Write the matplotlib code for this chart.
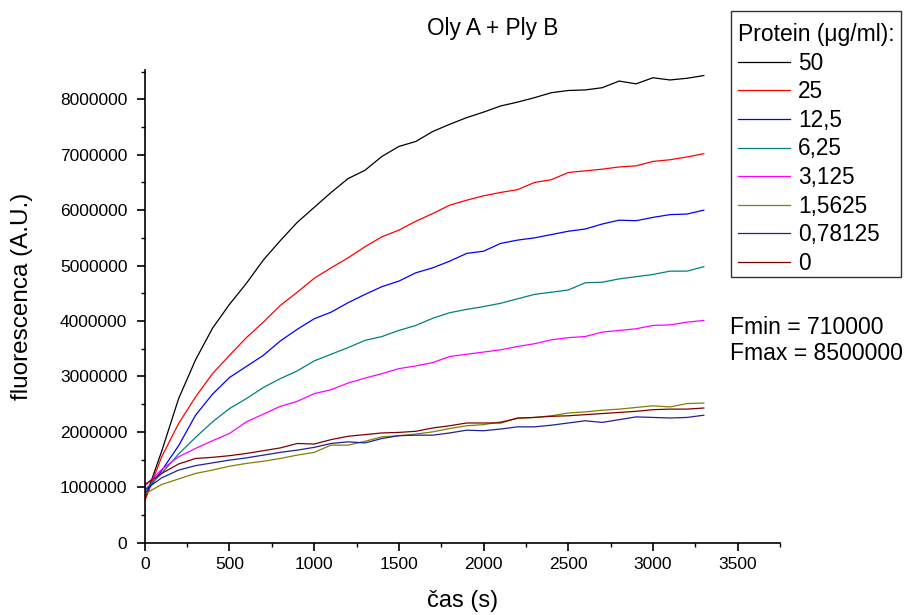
import matplotlib
matplotlib.use("Agg")
import matplotlib.pyplot as plt
from matplotlib.ticker import MultipleLocator
from matplotlib.patches import Rectangle

plt.rcParams['font.family'] = ['Liberation Sans', 'DejaVu Sans']

time_s = [0, 100, 200, 300, 400, 500, 600, 700, 800, 900, 1000, 1100, 1200, 1300,
          1400, 1500, 1600, 1700, 1800, 1900, 2000, 2100, 2200, 2300, 2400, 2500,
          2600, 2700, 2800, 2900, 3000, 3100, 3200, 3300]

labels = ["50", "25", "12,5", "6,25", "3,125", "1,5625", "0,78125", "0"]

c50 = [0.78, 1.65, 2.60, 3.30, 3.87, 4.30, 4.68, 5.10, 5.45, 5.78, 6.05, 6.32, 6.57, 6.72,
       6.97, 7.15, 7.24, 7.42, 7.55, 7.67, 7.77, 7.88, 7.95, 8.03, 8.12, 8.16, 8.17, 8.21,
       8.33, 8.28, 8.39, 8.35, 8.38, 8.43]
c25 = [0.75, 1.55, 2.15, 2.63, 3.05, 3.38, 3.70, 3.98, 4.28, 4.52, 4.77, 4.96, 5.14, 5.34,
       5.52, 5.64, 5.80, 5.94, 6.09, 6.18, 6.26, 6.32, 6.37, 6.50, 6.55, 6.68, 6.71, 6.74,
       6.78, 6.80, 6.88, 6.91, 6.96, 7.02]
c12_5 = [0.88, 1.30, 1.75, 2.30, 2.68, 2.98, 3.18, 3.38, 3.64, 3.85, 4.04, 4.16, 4.33, 4.48,
         4.62, 4.72, 4.87, 4.96, 5.08, 5.22, 5.26, 5.40, 5.46, 5.50, 5.56, 5.62, 5.66, 5.75,
         5.82, 5.81, 5.87, 5.92, 5.93, 6.00]
c6_25 = [0.95, 1.25, 1.60, 1.90, 2.18, 2.42, 2.60, 2.80, 2.96, 3.10, 3.28, 3.40, 3.52, 3.65,
         3.72, 3.83, 3.92, 4.05, 4.15, 4.21, 4.26, 4.32, 4.40, 4.48, 4.52, 4.56, 4.69, 4.70,
         4.76, 4.80, 4.84, 4.90, 4.90, 4.98]
c3_125 = [1.02, 1.32, 1.55, 1.70, 1.84, 1.97, 2.18, 2.32, 2.46, 2.55, 2.69, 2.76, 2.88, 2.97,
          3.05, 3.14, 3.19, 3.25, 3.36, 3.40, 3.44, 3.48, 3.54, 3.59, 3.66, 3.70, 3.72, 3.80,
          3.83, 3.86, 3.92, 3.93, 3.98, 4.01]
c1_5625 = [0.88, 1.05, 1.15, 1.25, 1.31, 1.38, 1.43, 1.47, 1.52, 1.58, 1.63, 1.76, 1.76, 1.83,
           1.91, 1.93, 1.96, 2.00, 2.06, 2.11, 2.13, 2.18, 2.24, 2.26, 2.29, 2.34, 2.36, 2.39,
           2.41, 2.44, 2.47, 2.45, 2.51, 2.52]
c0_78125 = [0.95, 1.17, 1.31, 1.39, 1.44, 1.49, 1.53, 1.58, 1.63, 1.67, 1.72, 1.79, 1.82, 1.80,
            1.88, 1.93, 1.94, 1.94, 1.98, 2.03, 2.02, 2.05, 2.09, 2.09, 2.12, 2.16, 2.20, 2.17,
            2.22, 2.27, 2.26, 2.25, 2.26, 2.30]
c0 = [1.05, 1.25, 1.42, 1.52, 1.54, 1.57, 1.61, 1.66, 1.71, 1.79, 1.78, 1.86, 1.92, 1.95,
      1.98, 1.99, 2.01, 2.07, 2.11, 2.16, 2.16, 2.16, 2.25, 2.26, 2.28, 2.29, 2.31, 2.33,
      2.35, 2.37, 2.40, 2.41, 2.41, 2.43]

series = [c50, c25, c12_5, c6_25, c3_125, c1_5625, c0_78125, c0]
colors = ['#000000', '#FF0000', '#0000FF', '#008080', '#FF00FF', '#808000', '#20209A', '#800000']

W, H = 908, 615
fig = plt.figure(figsize=(W / 100, H / 100), dpi=100)
ax = fig.add_axes([0.1594, 0.1176, 0.6997, 0.7686])

for vals, col, lab in zip(series, colors, labels):
    ax.plot(time_s, [v * 1e6 for v in vals], color=col, lw=0.9, label=lab)

ax.set_xlim(0, 3750)
ax.set_ylim(0, 8.53e6)
ax.xaxis.set_major_locator(MultipleLocator(500))
ax.xaxis.set_minor_locator(MultipleLocator(250))
ax.yaxis.set_major_locator(MultipleLocator(1000000))
ax.yaxis.set_minor_locator(MultipleLocator(500000))
ax.ticklabel_format(style='plain', axis='y', useOffset=False)

for s in ['top', 'right']:
    ax.spines[s].set_visible(False)
for s in ['left', 'bottom']:
    ax.spines[s].set_linewidth(1.2)

ax.tick_params(which='major', direction='out', length=6, width=1.2, labelsize=12.5)
ax.tick_params(axis='y', which='major', pad=6.5)
ax.tick_params(axis='x', which='major', pad=4)
ax.tick_params(which='minor', direction='out', length=3.2, width=1.0)

fig.text(463 / W, 1 - 601 / H, "čas (s)", ha='center', va='center', fontsize=17)
fig.text(22 / W, 1 - 296 / H, "fluorescenca (A.U.)", ha='center', va='center',
         rotation=90, fontsize=17.5)

fig.text(493 / W, 1 - 29 / H, "Oly A + Ply B", ha='center', va='center', fontsize=16.3)

leg = ax.legend(loc='upper left', bbox_to_anchor=(731 / W, 1 - 16.5 / H),
                bbox_transform=fig.transFigure, title="Protein (μg/ml):",
                fontsize=16.3, title_fontsize=16.5, frameon=False,
                handlelength=2.3, handletextpad=0.36,
                labelspacing=0.245, borderpad=0.3, borderaxespad=0)
leg._legend_box.align = "left"

fig.patches.append(Rectangle((731 / W, 1 - 277 / H), 170 / W, 266 / H,
                             transform=fig.transFigure, fill=False,
                             edgecolor='#333333', linewidth=1.0))

fig.text(730 / W, 1 - 327 / H, "Fmin = 710000", ha='left', va='center', fontsize=16.6)
fig.text(730 / W, 1 - 354 / H, "Fmax = 8500000", ha='left', va='center', fontsize=16.6)

fig.savefig("out.png", dpi=100)
